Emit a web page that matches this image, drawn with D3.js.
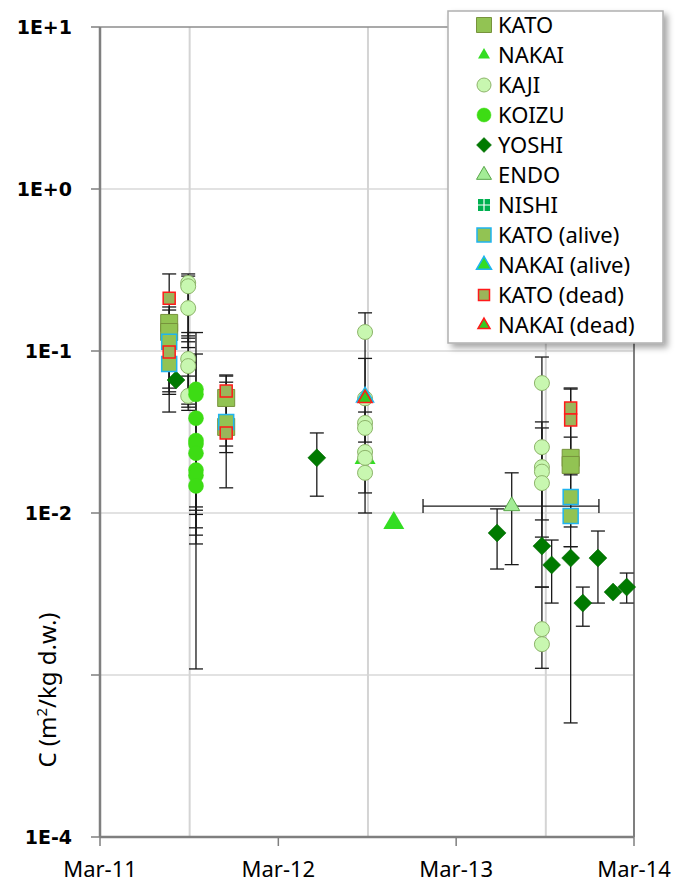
<!DOCTYPE html>
<meta charset="utf-8">
<style>
  body { margin: 0; background: #fff; }
  text { font-family: "Noto Sans", sans-serif; }
</style>
<svg width="679" height="885"></svg>
<script src="https://d3js.org/d3.v7.min.js"></script>
<script>

// each point: [date, value, error low, error high]  (null = no bar)
var kato = [
  ["2011-07-21", 0.149, 0.042, 0.299], ["2011-07-21", 0.131, 0.054, 0.187],
  ["2011-11-15", 0.0513, 0.0236, 0.0711], ["2011-11-15", 0.034, 0.0143, 0.0642],
  ["2013-10-22", 0.0219, 0.0177, 0.0591], ["2013-10-22", 0.0198, 0.0172, 0.0582]];
var nakai = [["2012-08-26", 0.0219, null, null], ["2012-10-24", 0.00867, null, null]];
var kaji = [
  ["2011-08-29", 0.263, 0.124, 0.299], ["2011-08-29", 0.251, 0.114, 0.29], ["2011-08-29", 0.184, 0.105, 0.26],
  ["2011-08-29", 0.0893, 0.047, 0.13], ["2011-08-29", 0.0807, 0.045, 0.12], ["2011-08-29", 0.0528, 0.043, 0.07],
  ["2012-08-26", 0.131, 0.0100, 0.172], ["2012-08-26", 0.051, 0.0274, 0.09], ["2012-08-26", 0.036, null, null],
  ["2012-08-26", 0.0335, 0.0133, 0.042], ["2012-08-26", 0.0238, null, null], ["2012-08-26", 0.0219, null, null],
  ["2012-08-26", 0.0177, null, null],
  ["2013-08-24", 0.0634, 0.0071, 0.0918], ["2013-08-24", 0.0255, 0.00906, 0.0365], ["2013-08-24", 0.0192, 0.00349, 0.0335],
  ["2013-08-24", 0.018, null, null], ["2013-08-24", 0.0153, null, null],
  ["2013-08-24", 0.00192, null, 0.00349], ["2013-08-24", 0.00155, 0.0011, null]];
var koizu = [
  ["2011-09-14", 0.058, 0.00109, 0.130], ["2011-09-14", 0.054, 0.0109, 0.0958], ["2011-09-14", 0.0385, 0.0104, null],
  ["2011-09-14", 0.028, 0.0098, null], ["2011-09-14", 0.0267, 0.0081, null], ["2011-09-14", 0.0234, 0.0073, null],
  ["2011-09-14", 0.0184, 0.00644, null], ["2011-09-14", 0.0171, null, null], ["2011-09-14", 0.0147, null, null]];
var yoshi = [
  ["2011-08-04", 0.0662, null, null], ["2012-05-19", 0.0219, 0.0127, 0.0312],
  ["2013-05-24", 0.00753, 0.00451, 0.0106], ["2013-08-24", 0.00625, null, null],
  ["2013-09-13", 0.00478, 0.00278, 0.00681], ["2013-10-22", 0.00527, 0.000506, 0.0062],
  ["2013-11-16", 0.00278, 0.002, 0.00349], ["2013-12-17", 0.00527, 0.00278, 0.00774],
  ["2014-01-17", 0.00325, null, null], ["2014-02-14", 0.00349, 0.00278, 0.00426]];
var endo = [["2013-06-23", 0.01104, 0.0048, 0.0177]];
var endoDates = ["2012-12-23", "2013-12-19"];   // horizontal error bar
var nishi = [];
var katoAlive = [
  ["2011-07-21", 0.114, 0.056, 0.179], ["2011-07-21", 0.0832, 0.059, 0.11],
  ["2011-11-15", 0.0365, 0.0259, 0.07],
  ["2013-10-22", 0.01256, 0.0082, 0.0294], ["2013-10-22", 0.00958, 0.0062, 0.0177]];
var nakaiAlive = [["2012-08-26", 0.052, null, null]];
var katoDead = [
  ["2011-07-21", 0.212, null, null], ["2011-07-21", 0.0986, null, null],
  ["2011-11-15", 0.0567, null, null], ["2011-11-15", 0.0312, null, null],
  ["2013-10-22", 0.0445, null, null], ["2013-10-22", 0.0375, null, null]];
var nakaiDead = [["2012-08-26", 0.051, null, null]];

var names = ["KATO", "NAKAI", "KAJI", "KOIZU", "YOSHI", "ENDO", "NISHI",
             "KATO (alive)", "NAKAI (alive)", "KATO (dead)", "NAKAI (dead)"];
var seriesData = [kato, nakai, kaji, koizu, yoshi, endo, nishi, katoAlive, nakaiAlive, katoDead, nakaiDead];

var yTicks = [10, 1, 0.1, 0.01, 0.001, 0.0001];
var yTickLabels = ["1E+1", "1E+0", "1E-1", "1E-2", "", "1E-4"];
var xTicks = ["2011-03-01", "2012-03-01", "2013-03-01", "2014-03-01"];
var xTickLabels = ["Mar-11", "Mar-12", "Mar-13", "Mar-14"];
var xGrid = ["2011-09-01", "2012-09-01", "2013-09-01"];

// marker styles per series
var styles = [
  {shape: "square", s: 17, fill: "#92c353", stroke: "#77933c", sw: 1, ls: 15},
  {shape: "triangle", s: 21, fill: "#33dd22", stroke: "none", sw: 0, ls: 12},
  {shape: "circle", s: 15, fill: "#c8f7b0", stroke: "#8db46a", sw: 1, ls: 14},
  {shape: "circle", s: 15, fill: "#3ddc14", stroke: "#3ddc14", sw: 0.5, ls: 14},
  {shape: "diamond", s: 18, fill: "#007a00", stroke: "#006400", sw: 0.5, ls: 15},
  {shape: "triangle", s: 16, fill: "#a3ec96", stroke: "#5aa64a", sw: 1, ls: 15},
  {shape: "plus", s: 12, fill: "#00b050", stroke: "none", sw: 0, ls: 12},
  {shape: "square", s: 15, fill: "#92c353", stroke: "#1fb4ef", sw: 1.5, ls: 14},
  {shape: "triangle", s: 17, fill: "#33dd22", stroke: "#1fb4ef", sw: 1.5, ls: 15},
  {shape: "square", s: 12, fill: "#9bb55a", stroke: "#ff1a1a", sw: 1.5, ls: 11},
  {shape: "triangle", s: 14, fill: "#33cc22", stroke: "#ff1a1a", sw: 1.5, ls: 12}
];

function shapePath(shape, s) {
  var h = s / 2;
  if (shape === "square") return "M" + (-h) + "," + (-h) + "h" + s + "v" + s + "h" + (-s) + "Z";
  if (shape === "diamond") return "M0," + (-h) + "L" + h + ",0L0," + h + "L" + (-h) + ",0Z";
  if (shape === "triangle") { var t = s * Math.sqrt(3) / 2; return "M0," + (-t * 2 / 3) + "L" + h + "," + (t / 3) + "L" + (-h) + "," + (t / 3) + "Z"; }
  if (shape === "circle") return d3.symbol(d3.symbolCircle, Math.PI * h * h)();
  if (shape === "plus") {
    var g = 1.2, q = h - g / 2;
    return ["M" + (-h) + "," + (-h) + "h" + q + "v" + q + "h" + (-q) + "Z",
            "M" + (g / 2) + "," + (-h) + "h" + q + "v" + q + "h" + (-q) + "Z",
            "M" + (-h) + "," + (g / 2) + "h" + q + "v" + q + "h" + (-q) + "Z",
            "M" + (g / 2) + "," + (g / 2) + "h" + q + "v" + q + "h" + (-q) + "Z"].join("");
  }
}

var parse = d3.timeParse("%Y-%m-%d");
var svg = d3.select("svg");
var pLeft = 100, pRight = 634, pTop = 27, pBottom = 837;

var x = d3.scaleTime().domain([parse("2011-03-01"), parse("2014-03-01")]).range([pLeft, pRight]);
var y = d3.scaleLog().domain([1e-4, 10]).range([pBottom, pTop]);

// gridlines
svg.append("g").selectAll("line").data(yTicks.slice(1, 5)).enter().append("line")
    .attr("x1", pLeft).attr("x2", pRight)
    .attr("y1", function(d) { return y(d); }).attr("y2", function(d) { return y(d); })
    .attr("stroke", "#d9d9d9").attr("stroke-width", 1.5);
svg.append("g").selectAll("line").data(xGrid).enter().append("line")
    .attr("x1", function(d) { return x(parse(d)); }).attr("x2", function(d) { return x(parse(d)); })
    .attr("y1", pTop).attr("y2", pBottom)
    .attr("stroke", "#d4d4d4").attr("stroke-width", 2);

// frame
svg.append("line").attr("x1", pLeft).attr("x2", pRight).attr("y1", pTop).attr("y2", pTop)
    .attr("stroke", "#8c8c8c").attr("stroke-width", 1.5);
svg.append("line").attr("x1", pRight).attr("x2", pRight).attr("y1", pTop).attr("y2", pBottom)
    .attr("stroke", "#7f7f7f").attr("stroke-width", 2);

// y axis
var yAxis = svg.append("g");
yAxis.append("line").attr("x1", pLeft).attr("x2", pLeft).attr("y1", pTop).attr("y2", pBottom)
    .attr("stroke", "#7f7f7f").attr("stroke-width", 2.5);
yAxis.selectAll(".tk").data(yTicks).enter().append("line")
    .attr("x1", pLeft - 9).attr("x2", pLeft)
    .attr("y1", function(d) { return y(d); }).attr("y2", function(d) { return y(d); })
    .attr("stroke", "#7f7f7f").attr("stroke-width", 1.5);
yAxis.selectAll("text").data(yTicks).enter().append("text")
    .attr("x", pLeft - 28).attr("y", function(d) { return y(d); }).attr("dy", "0.36em")
    .attr("text-anchor", "end").attr("font-size", 19).attr("font-weight", "bold")
    .style("font-family", "'DejaVu Sans', sans-serif")
    .text(function(d, i) { return yTickLabels[i]; });

// x axis
var xAxis = svg.append("g");
xAxis.append("line").attr("x1", pLeft).attr("x2", pRight).attr("y1", pBottom).attr("y2", pBottom)
    .attr("stroke", "#7f7f7f").attr("stroke-width", 2.5);
xAxis.selectAll(".tk").data(xTicks).enter().append("line")
    .attr("x1", function(d) { return x(parse(d)); }).attr("x2", function(d) { return x(parse(d)); })
    .attr("y1", pBottom).attr("y2", pBottom + 9)
    .attr("stroke", "#7f7f7f").attr("stroke-width", 1.5);
xAxis.selectAll("text").data(xTicks).enter().append("text")
    .attr("x", function(d) { return x(parse(d)); }).attr("y", 877)
    .attr("text-anchor", "middle").attr("font-size", 22)
    .text(function(d, i) { return xTickLabels[i]; });

// axis title
var title = svg.append("text")
    .attr("transform", "translate(56,690)rotate(-90)")
    .attr("text-anchor", "middle").attr("font-size", 24);
title.append("tspan").text("C  (m");
title.append("tspan").attr("dy", -9).attr("font-size", 15).text("2");
title.append("tspan").attr("dy", 9).text("/kg d.w.)");

// error bars
var bars = svg.append("g").attr("stroke", "#1a1a1a").attr("stroke-width", 1.3).attr("fill", "none");
seriesData.forEach(function(data) {
  data.forEach(function(p) {
    var cx = x(parse(p[0]));
    if (p[2] != null) {
      bars.append("line").attr("x1", cx).attr("x2", cx).attr("y1", y(p[1])).attr("y2", y(p[2]));
      bars.append("line").attr("x1", cx - 7).attr("x2", cx + 7).attr("y1", y(p[2])).attr("y2", y(p[2]));
    }
    if (p[3] != null) {
      bars.append("line").attr("x1", cx).attr("x2", cx).attr("y1", y(p[1])).attr("y2", y(p[3]));
      bars.append("line").attr("x1", cx - 7).attr("x2", cx + 7).attr("y1", y(p[3])).attr("y2", y(p[3]));
    }
  });
});
// ENDO horizontal bar
var ey = y(endo[0][1]);
bars.append("line").attr("x1", x(parse(endoDates[0]))).attr("x2", x(parse(endoDates[1]))).attr("y1", ey).attr("y2", ey);
endoDates.forEach(function(d) {
  bars.append("line").attr("x1", x(parse(d))).attr("x2", x(parse(d))).attr("y1", ey - 7).attr("y2", ey + 7);
});

// markers
seriesData.forEach(function(data, i) {
  var st = styles[i];
  svg.append("g").selectAll("path").data(data).enter().append("path")
      .attr("transform", function(p) { return "translate(" + x(parse(p[0])) + "," + y(p[1]) + ")"; })
      .attr("d", shapePath(st.shape, st.s))
      .attr("fill", st.fill).attr("stroke", st.stroke).attr("stroke-width", st.sw);
});

// legend
var defs = svg.append("defs");
var f = defs.append("filter").attr("id", "sh").attr("x", "-10%").attr("y", "-10%").attr("width", "130%").attr("height", "130%");
f.append("feDropShadow").attr("dx", 4).attr("dy", 4).attr("stdDeviation", 3).attr("flood-color", "#000").attr("flood-opacity", 0.35);

var legend = svg.append("g");
legend.append("rect").attr("x", 448).attr("y", 11).attr("width", 215).attr("height", 332)
    .attr("fill", "#fff").attr("stroke", "#b0b0b0").attr("stroke-width", 1.5).attr("filter", "url(#sh)");
var item = legend.selectAll("g").data(names).enter().append("g")
    .attr("transform", function(d, i) { return "translate(484," + (25 + i * 30) + ")"; });
item.append("path")
    .attr("d", function(d, i) { return shapePath(styles[i].shape, styles[i].ls); })
    .attr("fill", function(d, i) { return styles[i].fill; })
    .attr("stroke", function(d, i) { return styles[i].stroke; })
    .attr("stroke-width", function(d, i) { return styles[i].sw; });
item.append("text").attr("x", 14).attr("dy", "0.36em").attr("font-size", 22)
    .text(function(d) { return d; });

</script>
